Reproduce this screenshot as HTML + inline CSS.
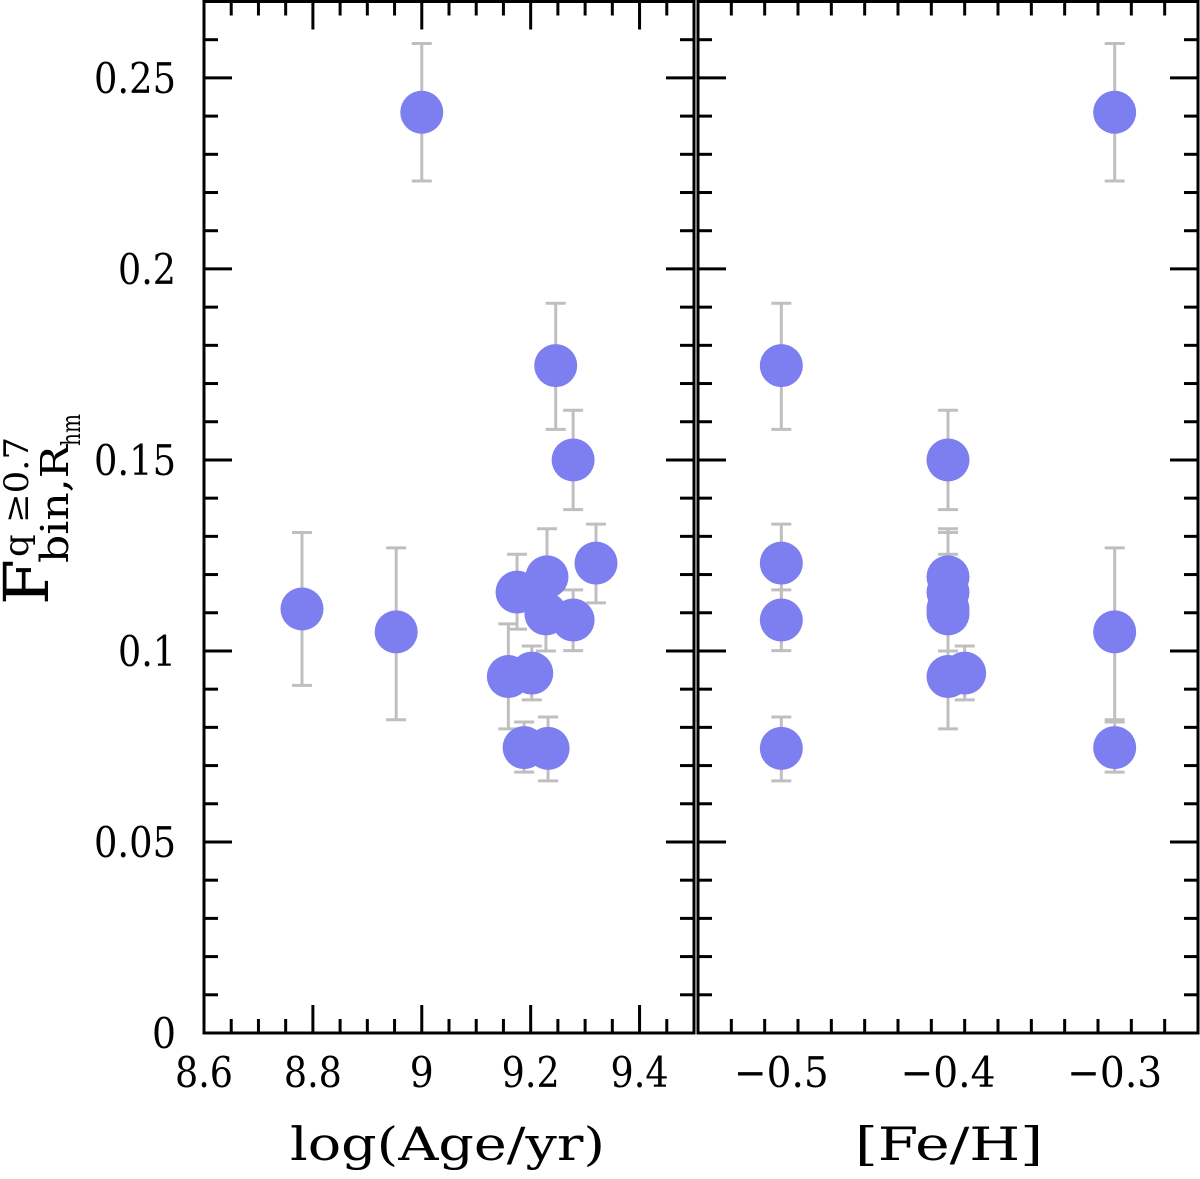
<!DOCTYPE html>
<html><head><meta charset="utf-8"><style>
html,body{margin:0;padding:0;background:#fff;}
svg text{font-family:"DejaVu Serif","Liberation Serif",serif;fill:#000;}
</style></head><body>
<svg id="chart" width="1200" height="1174" viewBox="0 0 1200 1174" xmlns="http://www.w3.org/2000/svg">
<g id="axes"></g>
<g id="bars"></g>
<g id="pts"></g>
<g id="frames"></g>
<g transform="translate(0,620) rotate(-90)">
<text x="15" y="48" font-size="62" textLength="46" lengthAdjust="spacingAndGlyphs">F</text>
<text x="63" y="28" font-size="34" textLength="120" lengthAdjust="spacingAndGlyphs">q ≥0.7</text>
<text x="57" y="68" font-size="38" textLength="118" lengthAdjust="spacingAndGlyphs">bin,R</text>
<text x="174" y="80" font-size="26" textLength="32" lengthAdjust="spacingAndGlyphs">hm</text>
</g>
<text x="290" y="1160" font-size="46" textLength="315" lengthAdjust="spacingAndGlyphs">log(Age/yr)</text>
<text x="855" y="1160" font-size="46" textLength="188" lengthAdjust="spacingAndGlyphs">[Fe/H]</text>
</svg>
<script>
const ages=[8.78,8.953,9.0,9.159,9.175,9.188,9.202,9.228,9.230,9.232,9.246,9.278,9.278,9.320];
const fehs=[-0.4,-0.3,-0.3,-0.4,-0.4,-0.3,-0.39,-0.4,-0.4,-0.5,-0.5,-0.5,-0.4,-0.5];
const fvals=[0.111,0.105,0.241,0.0933,0.1154,0.0747,0.0942,0.1097,0.1194,0.0745,0.1747,0.1081,0.150,0.123];
const errLo=[0.091,0.082,0.223,0.0796,0.1057,0.0683,0.0872,0.100,0.107,0.066,0.158,0.1001,0.137,0.1126];
const errHi=[0.131,0.127,0.259,0.1071,0.1253,0.0814,0.1013,0.120,0.132,0.0827,0.191,0.116,0.163,0.1332];
const yTicks=[0,0.05,0.1,0.15,0.2,0.25];
const yTickLabels=["0","0.05","0.1","0.15","0.2","0.25"];
const ageTicks=[8.6,8.8,9.0,9.2,9.4];
const ageTickLabels=["8.6","8.8","9","9.2","9.4"];
const fehTicks=[-0.5,-0.4,-0.3];
const fehTickLabels=["\u22120.5","\u22120.4","\u22120.3"];

const NS="http://www.w3.org/2000/svg";
const Y0=1033,Y1=1.5,YMAX=0.27;
const y=v=>Y0-(v/YMAX)*(Y0-Y1);
const L={x0:204,x1:694,min:8.6,max:9.5};
const R={x0:698,x1:1198,min:-0.55,max:-0.25};
const xa=v=>L.x0+(v-L.min)/(L.max-L.min)*(L.x1-L.x0);
const xf=v=>R.x0+(v-R.min)/(R.max-R.min)*(R.x1-R.x0);
function mk(parent,tag,attrs){const e=document.createElementNS(NS,tag);for(const k in attrs)e.setAttribute(k,attrs[k]);document.getElementById(parent).appendChild(e);return e;}
function line(g,x1,y1,x2,y2,c,w){return mk(g,'line',{x1,y1,x2,y2,stroke:c,'stroke-width':w});}
function labW(s){let w=0;for(const ch of s){w+= ch==='.'?10:(ch==='\u2212'?37:24);}return w;}

function panel(P,sx,majors,labels,minorStep,name){
  for(let i=0;i<=27;i++){const v=i*0.01,yy=y(v);const maj=i%5===0;const len=maj?28:14;
    line('axes',P.x0,yy,P.x0+len,yy,'#000',3);line('axes',P.x1,yy,P.x1-len,yy,'#000',3);}
  const n=Math.round((P.max-P.min)/minorStep);
  for(let i=0;i<=n;i++){const v=P.min+i*minorStep;const xx=sx(v);
    const maj=majors.some(m=>Math.abs(m-v)<1e-6);const len=maj?28:14;
    line('axes',xx,Y0,xx,Y0-len,'#000',3);line('axes',xx,Y1,xx,Y1+len,'#000',3);}
  majors.forEach((m,i)=>{const t=mk('axes','text',{x:sx(m),y:1087,'font-size':42,'text-anchor':'middle',textLength:labW(labels[i]),lengthAdjust:'spacingAndGlyphs'});t.textContent=labels[i];
    
    });
  const r=mk('frames','rect',{x:P.x0,y:Y1,width:P.x1-P.x0,height:Y0-Y1,fill:'none',stroke:'#000','stroke-width':3});
  
  
}
panel(L,xa,ageTicks,ageTickLabels,0.05,'age');
panel(R,xf,fehTicks,fehTickLabels,0.02,'feh');
yTicks.forEach((v,i)=>{const t=mk('axes','text',{x:176,y:y(v)+15,'font-size':42,'text-anchor':'end',textLength:labW(yTickLabels[i]),lengthAdjust:'spacingAndGlyphs'});t.textContent=yTickLabels[i];
  
  });

function series(xs,sx,name){
  xs.forEach((xv,i)=>{const cx=sx(xv);
    const eb=line('bars',cx,y(errLo[i]),cx,y(errHi[i]),'#bfbfbf',3);
    
    
    line('bars',cx-10,y(errLo[i]),cx+10,y(errLo[i]),'#bfbfbf',3);
    line('bars',cx-10,y(errHi[i]),cx+10,y(errHi[i]),'#bfbfbf',3);
    const c=mk('pts','circle',{cx,cy:y(fvals[i]),r:21.5,fill:'#7d7ef0'});
    
    
  });
}
series(ages,xa,'age');
series(fehs,xf,'feh');
</script>
</body></html>
